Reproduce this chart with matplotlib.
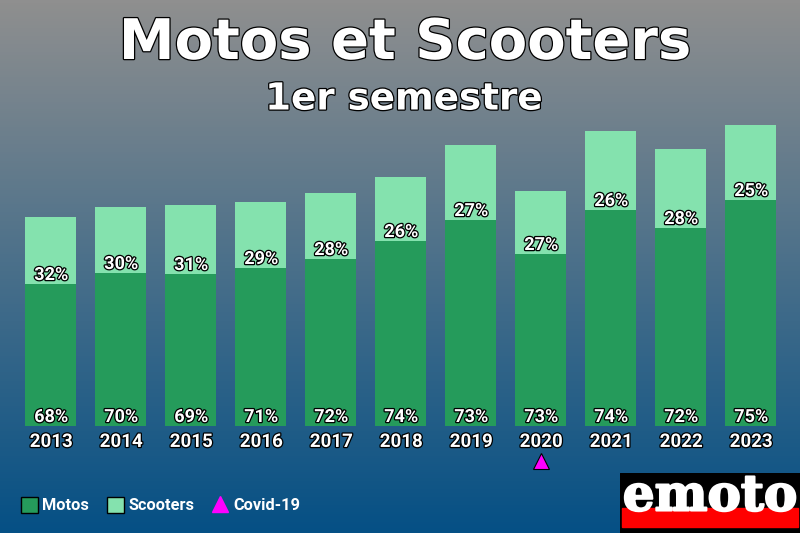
import numpy as np
import matplotlib
matplotlib.use("Agg")
import matplotlib.pyplot as plt
import matplotlib.patheffects as pe
from matplotlib.patches import Patch, Rectangle
from matplotlib.lines import Line2D
from matplotlib.colors import LinearSegmentedColormap

years = ["2013","2014","2015","2016","2017","2018","2019","2020","2021","2022","2023"]
motos = [142,153,152,158,167,185,206,172,216,198,226]
scooters = [67,66,69,66,66,64,75,63,79,79,75]
motos_pct = [68,70,69,71,72,74,73,73,74,72,75]
scooters_pct = [32,30,31,29,28,26,27,27,26,28,25]
covid_year = "2020"

GREEN = "#259b5b"
LIGHT = "#84e2ae"
W, H = 800, 533
fig = plt.figure(figsize=(W/100, H/100), dpi=100)

bg = fig.add_axes([0, 0, 1, 1], zorder=0)
cmap = LinearSegmentedColormap.from_list("bg", ["#8f8f8f", "#055085"])
bg.imshow(np.linspace(0, 1, 533)[:, None], aspect="auto", cmap=cmap, extent=[0, W, H, 0])
bg.set_xlim(0, W); bg.set_ylim(H, 0); bg.axis("off")

ax = fig.add_axes([0, (H-426)/H, 1, 426/H], zorder=1)
ax.patch.set_alpha(0)
ax.set_xlim(-50.5/70, (800-50.5)/70)
ax.set_ylim(0, 426)
x = np.arange(len(years))
ax.bar(x, motos, width=51/70, color=GREEN)
ax.bar(x, scooters, width=51/70, bottom=motos, color=LIGHT)

def halo(w):
    return [pe.withStroke(linewidth=w, foreground="black")]

for i in x:
    ax.text(i + 0.01, 9, f"{motos_pct[i]}%", ha="center", va="center", color="white",
            fontsize=13, family="Roboto", weight="bold", path_effects=halo(1.8))
    ax.text(i + 0.01, motos[i] + 9, f"{scooters_pct[i]}%", ha="center", va="center", color="white",
            fontsize=13, family="Roboto", weight="bold", path_effects=halo(1.8), clip_on=False)

ax.set_xticks(x + 0.01, years)
ax.tick_params(axis="x", length=0, pad=5)
for t in ax.get_xticklabels():
    t.set(color="white", fontsize=13.5, family="Roboto", weight="bold", path_effects=halo(1.8))
ax.set_yticks([])
for s in ax.spines.values():
    s.set_visible(False)

ax.plot([years.index(covid_year)], [-35], marker="^", ms=12, mfc="#ff00ff", mec="black",
        mew=0.8, ls="none", clip_on=False)

fig.text(405/W, 1-44/H, "Motos et Scooters", ha="center", va="center", color="white",
         fontsize=40.3, family="DejaVu Sans", weight="bold", path_effects=halo(1.8))
fig.text(404/W, 1-99/H, "1er semestre", ha="center", va="center", color="white",
         fontsize=26.8, family="DejaVu Sans", weight="bold", path_effects=halo(1.8))

handles = [Patch(facecolor=GREEN, edgecolor="black", label="Motos"),
           Patch(facecolor=LIGHT, edgecolor="black", label="Scooters"),
           Line2D([], [], marker="^", ms=12, mfc="#ff00ff", mec="#ff00ff", ls="none", label="Covid-19")]
leg = fig.legend(handles=handles, ncol=3, frameon=False, loc="center left",
                 bbox_to_anchor=(21/W, 1-505/H), borderaxespad=0, borderpad=0,
                 prop={"family": "Roboto", "weight": "bold", "size": 11.8},
                 labelcolor="white", handlelength=1.06, handleheight=1.12,
                 handletextpad=0.25, columnspacing=1.06)

logo = fig.add_axes([620/W, 0, 180/W, 60/H], zorder=2)
logo.set_xlim(0, 180); logo.set_ylim(60, 0); logo.axis("off")
logo.add_patch(Rectangle((0, 0), 180, 60, color="black"))
logo.add_patch(Rectangle((2, 35), 176, 19, color="#ff0000"))
logo.text(90, 24, "emoto", ha="center", va="center", color="white", fontsize=36,
          family="DejaVu Serif", weight="bold",
          path_effects=[pe.withStroke(linewidth=1.5, foreground="white")])

fig.savefig("out.png", dpi=100)
